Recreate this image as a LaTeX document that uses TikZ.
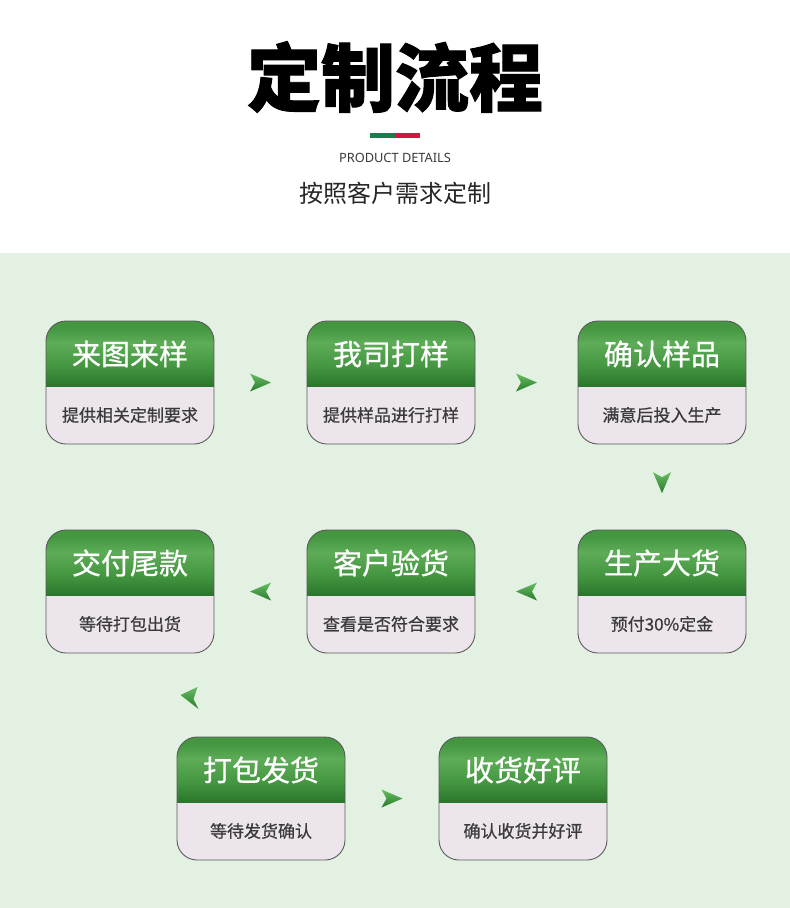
\documentclass[tikz,border=0pt]{standalone}
\usepackage{fontspec}
\newfontfamily\cjk{Noto Sans CJK SC}
\newfontfamily\cjkheavy[FakeBold=1.3]{Noto Sans CJK SC}
\newfontfamily\cjkmid[FakeBold=0.7]{Noto Sans CJK SC}
\newfontfamily\latin{Noto Sans}
\usetikzlibrary{positioning,calc}

\definecolor{pagegreen}{HTML}{E3F1E2}
\definecolor{cardbody}{HTML}{EDE5EC}
\definecolor{cardline}{HTML}{5A5A5A}
\definecolor{notegray}{HTML}{3A3A3A}
\definecolor{headdark}{HTML}{2A762C}
\definecolor{headmid}{HTML}{449640}
\definecolor{headlight}{HTML}{5EAC58}
\definecolor{bargreen}{HTML}{1F7A4D}
\definecolor{barred}{HTML}{D5173F}
\definecolor{darttop}{HTML}{66BC62}
\definecolor{dartbot}{HTML}{2A7A2C}

\pgfdeclareverticalshading{cardhead}{100bp}{color(0bp)=(headdark); color(25bp)=(headdark); color(40bp)=(headmid); color(58bp)=(headlight); color(70bp)=(headmid); color(75bp)=(headmid); color(100bp)=(headmid)}

\tikzset{
  dart/.pic={\shade[top color=darttop, bottom color=dartbot]
    (-10.5,-9) -- (10.5,0) -- (-10.5,9) -- (-5.5,0) -- cycle;},
  dartbend/.pic={\shade[top color=darttop, bottom color=dartbot]
    (-10,-3) -- (7,-11) -- (3,1) -- (8,11) -- cycle;},
}

% one step of the flow: name, placement, title, note
\newcommand\flowcard[4]{%
  \node[card, #2] (#1) {};
  \begin{scope}
    \clip[rounded corners=20pt] (#1.north west) rectangle (#1.south east);
    \shade[shading=cardhead] (#1.north west) rectangle ([yshift=-65pt]#1.north east);
  \end{scope}
  \draw[cardedge] (#1.north west) rectangle (#1.south east);
  \node[cardtitle] (#1-title) at ([yshift=-33pt]#1.north) {#3};
  \node[cardnote] (#1-note) at ([yshift=29pt]#1.south) {#4};
}

\begin{document}
\begin{tikzpicture}[
      x=1pt, y=-1pt,
      card/.style={rectangle, rounded corners=20pt, fill=cardbody,
                   minimum width=168pt, minimum height=123pt,
                   inner sep=0pt, outer sep=0pt},
      cardedge/.style={draw=cardline, line width=0.9pt, rounded corners=20pt},
      cardtitle/.style={text=white, font=\cjkmid\fontsize{29}{29}\selectfont},
      cardnote/.style={text=notegray, font=\cjkmid\fontsize{17}{17}\selectfont}
    ]
    \useasboundingbox (0,0) rectangle (790,908);

    % Page background
    \fill[white] (0,0) rectangle (790,253);
    \fill[pagegreen] (0,253) rectangle (790,908);

    % Heading
    \node[font=\cjkheavy\bfseries\fontsize{74}{74}\selectfont] (title) at (395,77) {定制流程};
    \fill[bargreen] (370,133) rectangle (395,138);
    \fill[barred] (395,133) rectangle (420,138);
    \node[font=\latin\fontsize{12.8}{12.8}\selectfont, text=notegray] (tag) at (395,158) {PRODUCT DETAILS};
    \node[font=\cjk\fontsize{24}{24}\selectfont, text=black!85] (subtitle) at (395,193) {按照客户需求定制};

    % Flow steps
    \flowcard{sample}{at={(130,382.5)}}{来图来样}{提供相关定制要求}
    \flowcard{proof}{right=93pt of sample}{我司打样}{提供样品进行打样}
    \flowcard{confirm}{right=103pt of proof}{确认样品}{满意后投入生产}
    \flowcard{produce}{below=86pt of confirm}{生产大货}{预付30\%定金}
    \flowcard{inspect}{left=103pt of produce}{客户验货}{查看是否符合要求}
    \flowcard{balance}{left=93pt of inspect}{交付尾款}{等待打包出货}
    \flowcard{ship}{at={(261,798.5)}}{打包发货}{等待发货确认}
    \flowcard{review}{right=94pt of ship}{收货好评}{确认收货并好评}

    % Arrows between steps
    \pic at ($(sample.east)!0.5!(proof.west)$) {dart};
    \pic at ($(proof.east)!0.5!(confirm.west)$) {dart};
    \pic[rotate=-90] at ($(confirm.south)!0.45!(produce.north)$) {dart};
    \pic[rotate=180] at ($(produce.west)!0.5!(inspect.east)$) {dart};
    \pic[rotate=180] at ($(inspect.west)!0.5!(balance.east)$) {dart};
    \pic at ($(balance.center)!0.5!(ship.center)+(-5,3)$) {dartbend};
    \pic at ($(ship.east)!0.5!(review.west)$) {dart};

  \end{tikzpicture}
\end{document}
